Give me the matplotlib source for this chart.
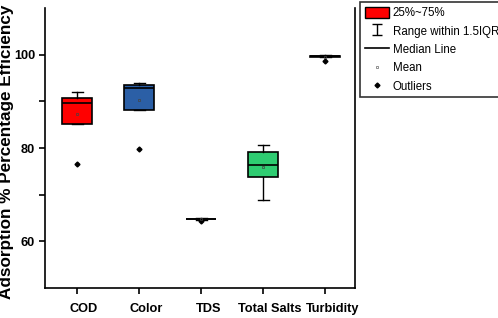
import matplotlib.pyplot as plt
import matplotlib.transforms as mtransforms
from matplotlib.patches import Patch
from matplotlib.lines import Line2D

categories = ['COD', 'Color', 'TDS', 'Total Salts', 'Turbidity']
q1 = [85.1, 88.1, 64.7, 73.8, 99.5]
med = [89.6, 92.9, 64.8, 76.4, 99.7]
q3 = [90.8, 93.5, 64.9, 79.1, 99.8]
whislo = [85.1, 88.1, 64.6, 68.9, 99.4]
whishi = [92.1, 94.0, 65.0, 80.6, 99.9]
means = [87.3, 90.2, 64.8, 76.0, 99.6]
fliers = [[76.5], [79.8], [64.3], [], [98.6]]
box_colors = ['#ff0000', '#2b5fa6', '#8e44ad', '#2ecc71', '#f39c12']

plt.rcParams['font.family'] = ['Liberation Sans', 'DejaVu Sans']

fig = plt.figure(figsize=(4.98, 3.18), dpi=100)
ax = fig.add_axes([0.090, 0.094, 0.623, 0.881])

stats = []
for i in range(len(categories)):
    stats.append(dict(label=categories[i], q1=q1[i], med=med[i], q3=q3[i],
                      whislo=whislo[i], whishi=whishi[i], mean=means[i],
                      fliers=fliers[i]))

bp = ax.bxp(stats, widths=0.48, capwidths=0.18, patch_artist=True, showmeans=True,
            boxprops=dict(edgecolor='black', linewidth=1.2),
            medianprops=dict(color='black', linewidth=1.2),
            whiskerprops=dict(color='black', linewidth=1.0),
            capprops=dict(color='black', linewidth=1.0),
            meanprops=dict(marker='s', markersize=1.5, markerfacecolor='none',
                           markeredgecolor='#444444', markeredgewidth=0.5),
            flierprops=dict(marker='D', markersize=2.5, markerfacecolor='black',
                            markeredgecolor='black'))
for patch, c in zip(bp['boxes'], box_colors):
    patch.set_facecolor(c)

ax.set_xlim(0.48, 5.48)
ax.set_ylim(50, 110)
ax.set_yticks([60, 80, 100])
ax.set_yticks([70, 90], minor=True)
ax.tick_params(axis='both', which='both', direction='out', length=4, width=1.2)
ax.tick_params(axis='x', pad=7)
ax.tick_params(axis='y', pad=3)
for lab in ax.get_xticklabels() + ax.get_yticklabels():
    lab.set_fontweight('bold')
    lab.set_fontsize(9.2)
# category labels sit a little right of their ticks in the original
shift = mtransforms.ScaledTranslation(7 / 100, 0, fig.dpi_scale_trans)
for lab in ax.get_xticklabels():
    lab.set_transform(lab.get_transform() + shift)
ax.spines['top'].set_visible(False)
for s in ['left', 'bottom', 'right']:
    ax.spines[s].set_linewidth(1.2)

ax.set_ylabel('Adsorption % Percentage Efficiency', fontsize=12.3, fontweight='bold')
ax.yaxis.set_label_coords(-0.098, 0.4875)

# legend entries
eb = ax.errorbar([-10], [80], yerr=[2], fmt='none', ecolor='black', capsize=3.5, elinewidth=1)
handles = [
    Patch(facecolor='#ff0000', edgecolor='black', linewidth=1),
    eb,
    Line2D([], [], color='black', linewidth=1.2),
    Line2D([], [], marker='s', linestyle='none', markersize=2, markerfacecolor='none',
           markeredgecolor='#666666', markeredgewidth=0.5),
    Line2D([], [], marker='D', linestyle='none', markersize=2.5, color='black'),
]
labels = ['25%~75%', 'Range within 1.5IQR', 'Median Line', 'Mean', 'Outliers']
leg = fig.legend(handles, labels, loc='upper left', bbox_to_anchor=(0.723, 0.994),
                 frameon=True, fancybox=False, edgecolor='black',
                 prop=dict(size=8.3), handlelength=2.1, handleheight=1.15,
                 handletextpad=0.35, borderpad=0.4, borderaxespad=0,
                 labelspacing=0.5)
leg.get_frame().set_linewidth(1.2)

fig.savefig('out.png', dpi=100)
